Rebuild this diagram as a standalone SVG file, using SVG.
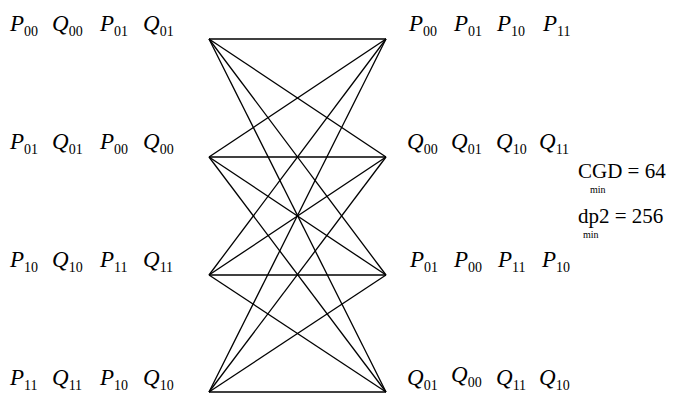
<svg xmlns="http://www.w3.org/2000/svg" width="673" height="394" viewBox="0 0 673 394">
<style>
.l{font-family:"Liberation Serif","Times New Roman",serif;font-size:23px;font-style:italic;fill:#000}
.s{font-style:normal;font-size:14px}
.e line{stroke:#000;stroke-width:1.3}
.a{font-family:"Liberation Serif","Times New Roman",serif;font-size:21px;fill:#000}
.m{font-family:"Liberation Serif","Times New Roman",serif;font-size:10px;fill:#000}
</style>
<rect width="673" height="394" fill="#fff"/>
<g class="e" id="connectors">
<line x1="209" y1="39" x2="386" y2="39"/>
<line x1="209" y1="39" x2="386" y2="157"/>
<line x1="209" y1="39" x2="386" y2="275"/>
<line x1="209" y1="39" x2="386" y2="392"/>
<line x1="209" y1="157" x2="386" y2="39"/>
<line x1="209" y1="157" x2="386" y2="157"/>
<line x1="209" y1="157" x2="386" y2="275"/>
<line x1="209" y1="157" x2="386" y2="392"/>
<line x1="209" y1="275" x2="386" y2="39"/>
<line x1="209" y1="275" x2="386" y2="157"/>
<line x1="209" y1="275" x2="386" y2="275"/>
<line x1="209" y1="275" x2="386" y2="392"/>
<line x1="209" y1="392" x2="386" y2="39"/>
<line x1="209" y1="392" x2="386" y2="157"/>
<line x1="209" y1="392" x2="386" y2="275"/>
<line x1="209" y1="392" x2="386" y2="392"/>
</g>
<g id="L1" class="l">
<text x="10" y="31">P<tspan class="s" dy="5">00</tspan></text>
<text x="52" y="31">Q<tspan class="s" dy="5">00</tspan></text>
<text x="100" y="31">P<tspan class="s" dy="5">01</tspan></text>
<text x="143" y="31">Q<tspan class="s" dy="5">01</tspan></text>
</g>
<g id="L2" class="l">
<text x="10" y="149">P<tspan class="s" dy="5">01</tspan></text>
<text x="52" y="149">Q<tspan class="s" dy="5">01</tspan></text>
<text x="100" y="149">P<tspan class="s" dy="5">00</tspan></text>
<text x="143" y="149">Q<tspan class="s" dy="5">00</tspan></text>
</g>
<g id="L3" class="l">
<text x="10" y="267">P<tspan class="s" dy="5">10</tspan></text>
<text x="52" y="267">Q<tspan class="s" dy="5">10</tspan></text>
<text x="100" y="267">P<tspan class="s" dy="5">11</tspan></text>
<text x="143" y="267">Q<tspan class="s" dy="5">11</tspan></text>
</g>
<g id="L4" class="l">
<text x="10" y="385">P<tspan class="s" dy="5">11</tspan></text>
<text x="52" y="385">Q<tspan class="s" dy="5">11</tspan></text>
<text x="100" y="385">P<tspan class="s" dy="5">10</tspan></text>
<text x="143" y="385">Q<tspan class="s" dy="5">10</tspan></text>
</g>
<g id="R1" class="l">
<text x="409" y="31">P<tspan class="s" dy="5">00</tspan></text>
<text x="454" y="31">P<tspan class="s" dy="5">01</tspan></text>
<text x="497" y="31">P<tspan class="s" dy="5">10</tspan></text>
<text x="543" y="31">P<tspan class="s" dy="5">11</tspan></text>
</g>
<g id="R2" class="l">
<text x="407" y="149">Q<tspan class="s" dy="5">00</tspan></text>
<text x="451" y="149">Q<tspan class="s" dy="5">01</tspan></text>
<text x="496" y="149">Q<tspan class="s" dy="5">10</tspan></text>
<text x="539" y="149">Q<tspan class="s" dy="5">11</tspan></text>
</g>
<g id="R3" class="l">
<text x="410" y="267">P<tspan class="s" dy="5">01</tspan></text>
<text x="454" y="267">P<tspan class="s" dy="5">00</tspan></text>
<text x="498" y="267">P<tspan class="s" dy="5">11</tspan></text>
<text x="542" y="267">P<tspan class="s" dy="5">10</tspan></text>
</g>
<g id="R4" class="l">
<text x="407" y="385">Q<tspan class="s" dy="5">01</tspan></text>
<text x="451" y="382">Q<tspan class="s" dy="5">00</tspan></text>
<text x="496" y="385">Q<tspan class="s" dy="5">11</tspan></text>
<text x="539" y="385">Q<tspan class="s" dy="5">10</tspan></text>
</g>
<g id="metrics">
<text class="a" x="578" y="178">CGD = 64</text>
<text class="m" x="590" y="193">min</text>
<text class="a" x="578" y="223">dp2 = 256</text>
<text class="m" x="583" y="238">min</text>
</g>
</svg>
